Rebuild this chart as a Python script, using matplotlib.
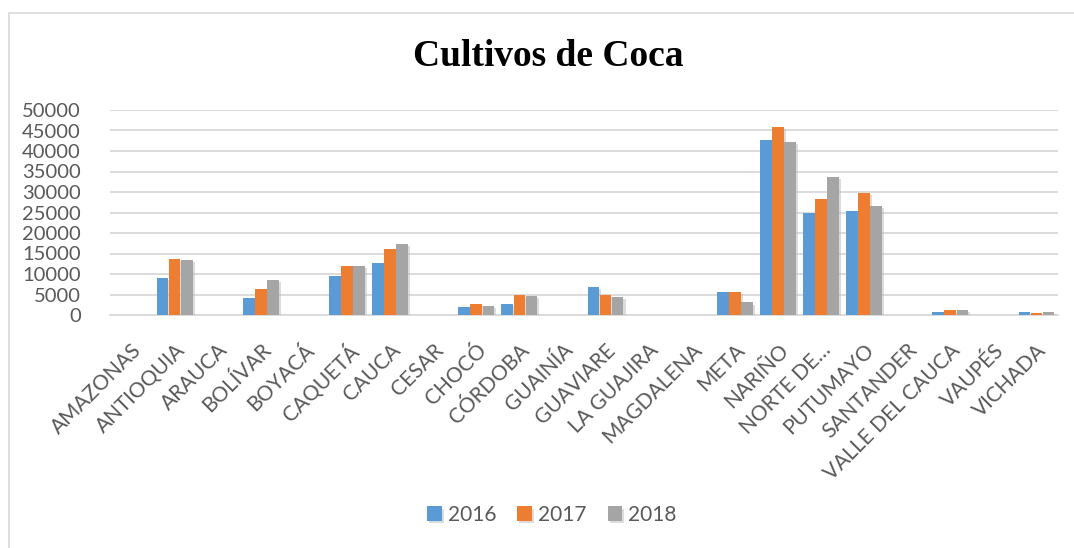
import numpy as np
import matplotlib
matplotlib.use("Agg")
import matplotlib.pyplot as plt
from matplotlib.patches import Rectangle
import matplotlib.patheffects as pe

# data
departamentos = ["AMAZONAS", "ANTIOQUIA", "ARAUCA", "BOLÍVAR", "BOYACÁ", "CAQUETÁ",
                 "CAUCA", "CESAR", "CHOCÓ", "CÓRDOBA", "GUAINÍA", "GUAVIARE",
                 "LA GUAJIRA", "MAGDALENA", "META", "NARIÑO", "NORTE DE…",
                 "PUTUMAYO", "SANTANDER", "VALLE DEL CAUCA", "VAUPÉS", "VICHADA"]
ha_2016 = [0, 9100, 0, 4200, 0, 9550, 12750, 0, 2000, 2750, 0, 6900,
           0, 0, 5650, 42750, 24950, 25400, 0, 800, 0, 750]
ha_2017 = [0, 13700, 0, 6400, 0, 12000, 16150, 0, 2750, 4950, 0, 4950,
           0, 0, 5650, 45900, 28350, 29800, 0, 1200, 0, 600]
ha_2018 = [0, 13500, 0, 8650, 0, 12000, 17350, 0, 2250, 4700, 0, 4450,
           0, 0, 3050, 42100, 33700, 26650, 0, 1150, 0, 650]
years = ["2016", "2017", "2018"]
colors = ["#5B9BD5", "#ED7D31", "#A5A5A5"]

txt = "#595959"
plt.rcParams['font.family'] = ['Lato', 'DejaVu Sans']

fig = plt.figure(figsize=(10.74, 5.48), dpi=100)
fig.patches.append(Rectangle((9/1074, -0.1), 1.2, 1 - 13/548 + 0.1,
                             transform=fig.transFigure, fill=False,
                             edgecolor="#D9D9D9", linewidth=1.2))

ax = fig.add_axes([110/1074, 1 - 315/548, 948/1074, 205/548])
x = np.arange(len(departamentos))
w = 0.27
shadow = [pe.SimplePatchShadow(offset=(1.5, -1.5), shadow_rgbFace="#bbbbbb", alpha=0.5),
          pe.Normal()]
for i, vals in enumerate([ha_2016, ha_2017, ha_2018]):
    bars = ax.bar(x + (i - 1) * 0.28, vals, w, color=colors[i], label=years[i], zorder=3)
    for b in bars:
        b.set_path_effects(shadow)

ax.set_xlim(-0.5, len(departamentos) - 0.5)
ax.set_ylim(0, 50000)
ax.set_yticks(range(0, 50001, 5000))
ax.yaxis.grid(True, color="#D9D9D9", linewidth=1.3, zorder=0)
ax.set_axisbelow(True)
for s in ["top", "right", "left"]:
    ax.spines[s].set_visible(False)
ax.spines["bottom"].set_color("#D9D9D9")
ax.spines["bottom"].set_linewidth(1.3)
ax.tick_params(axis="both", length=0, colors=txt, labelsize=14.5)
ax.tick_params(axis="y", pad=21)
ax.set_xticks(x)
ax.set_xticklabels(departamentos, rotation=45, ha="right", va="top",
                   rotation_mode="anchor", fontsize=15)
ax.tick_params(axis="x", pad=18)

fig.text(548 / 1074, 1 - 56 / 548, "Cultivos de Coca", ha="center", va="center",
         fontsize=27, fontweight="bold", family="Liberation Serif", color="black")

fig.legend(loc="center", bbox_to_anchor=(552 / 1074, 1 - 515 / 548), ncol=3,
           frameon=False, fontsize=15, handlelength=0.7, handleheight=0.7,
           handletextpad=0.3, columnspacing=1.0, labelcolor=txt)

fig.savefig("out.png", dpi=100)
